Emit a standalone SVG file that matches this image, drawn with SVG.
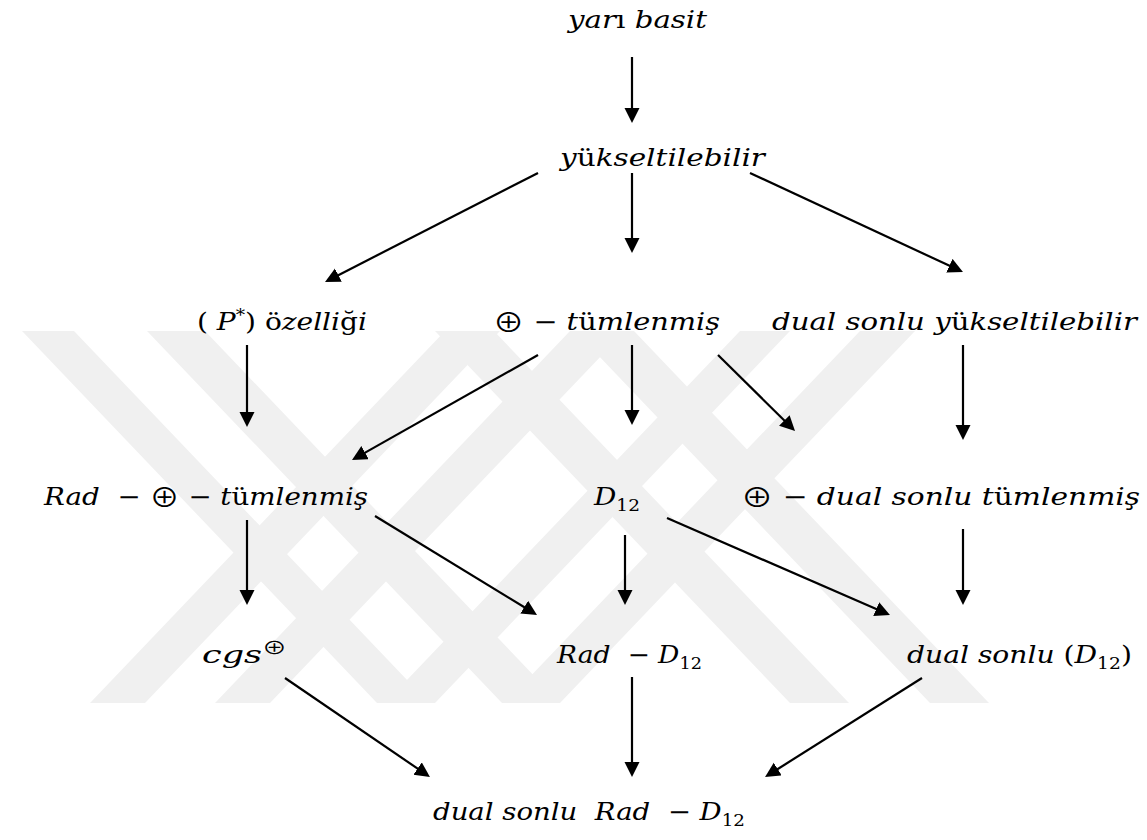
<svg xmlns="http://www.w3.org/2000/svg" width="1147" height="840" viewBox="0 0 1147 840">
<style>
.t{font-family:"DejaVu Serif","Liberation Serif",serif;font-size:24px;font-style:italic;fill:#000}
.u{font-style:normal}
.s{font-size:16px;font-style:normal}
.o{font-size:26px;font-style:normal;font-family:"Noto Sans CJK SC","DejaVu Serif",sans-serif}
.os{font-size:17px;font-style:normal;font-family:"Noto Sans CJK SC","DejaVu Serif",sans-serif}
.c line{stroke:#000;stroke-width:2.2;marker-end:url(#ah)}
.wm polygon{fill:#f0f0f0}
</style>
<defs>
<marker id="ah" markerUnits="userSpaceOnUse" markerWidth="16" markerHeight="16" refX="5" refY="7.5" orient="auto"><path d="M0,0 L15,7.5 L0,15 z" fill="#000"/></marker>
<clipPath id="wc"><rect x="0" y="331" width="1147" height="372"/></clipPath>
</defs>
<rect width="1147" height="840" fill="#fff"/>
<g class="wm" clip-path="url(#wc)">
<polygon points="22,331 74,331 429,703 377,703"/>
<polygon points="147,331 205,331 560,703 502,703"/>
<polygon points="90,703 145,703 500,331 445,331"/>
<polygon points="215,703 270,703 625,331 570,331"/>
<polygon points="435,331 494,331 849,703 790,703"/>
<polygon points="575,331 634,331 989,703 930,703"/>
<polygon points="385,703 435,703 790,331 740,331"/>
<polygon points="505,703 560,703 915,331 860,331"/>
</g>
<g id="n1"><text class="t" x="568" y="28" textLength="139" lengthAdjust="spacingAndGlyphs">yar<tspan class="u">ı</tspan> basit</text></g>
<g id="n2"><text class="t" x="560" y="166" textLength="205" lengthAdjust="spacingAndGlyphs">y<tspan class="u">ü</tspan>kseltilebilir</text></g>
<g id="n3"><text class="t" x="197" y="330" textLength="170" lengthAdjust="spacingAndGlyphs"><tspan class="u">( </tspan>P<tspan class="s" dy="-9">*</tspan><tspan class="u" dy="9">) ö</tspan>zelli<tspan class="u">ğ</tspan>i</text></g>
<g id="n4"><text class="t" x="493" y="330" textLength="227" lengthAdjust="spacingAndGlyphs"><tspan class="o" dy="2">⊕</tspan><tspan class="u" dy="-2"> − </tspan>t<tspan class="u">ü</tspan>mlenmiş</text></g>
<g id="n5"><text class="t" x="772" y="330" textLength="365" lengthAdjust="spacingAndGlyphs">dual sonlu y<tspan class="u">ü</tspan>kseltilebilir</text></g>
<g id="n6"><text class="t" x="44" y="505" textLength="324" lengthAdjust="spacingAndGlyphs" xml:space="preserve">Rad<tspan class="u">  − </tspan><tspan class="o" dy="2">⊕</tspan><tspan class="u" dy="-2"> − </tspan>t<tspan class="u">ü</tspan>mlenmiş</text></g>
<g id="n7"><text class="t" x="594" y="505" textLength="46" lengthAdjust="spacingAndGlyphs">D<tspan class="s" dy="6">12</tspan></text></g>
<g id="n8"><text class="t" x="741" y="505" textLength="399" lengthAdjust="spacingAndGlyphs"><tspan class="o" dy="2">⊕</tspan><tspan class="u" dy="-2"> − </tspan>dual sonlu t<tspan class="u">ü</tspan>mlenmiş</text></g>
<g id="n9"><text class="t" x="202" y="663" textLength="85" lengthAdjust="spacingAndGlyphs">cgs<tspan class="os" dy="-9">⊕</tspan></text></g>
<g id="n10"><text class="t" x="557" y="663" textLength="145" lengthAdjust="spacingAndGlyphs" xml:space="preserve">Rad<tspan class="u">  − </tspan>D<tspan class="s" dy="6">12</tspan></text></g>
<g id="n11"><text class="t" x="907" y="663" textLength="225" lengthAdjust="spacingAndGlyphs">dual sonlu <tspan class="u">(</tspan>D<tspan class="s" dy="6">12</tspan><tspan class="u" dy="-6">)</tspan></text></g>
<g id="n12"><text class="t" x="433" y="820" textLength="312" lengthAdjust="spacingAndGlyphs" xml:space="preserve">dual sonlu  Rad<tspan class="u">  − </tspan>D<tspan class="s" dy="6">12</tspan></text></g>
<g id="connectors" class="c">
<line x1="632" y1="57" x2="632" y2="113"/>
<line x1="538" y1="173" x2="333.9" y2="277.4"/>
<line x1="632" y1="173" x2="632" y2="243"/>
<line x1="750" y1="173" x2="953.9" y2="267.8"/>
<line x1="247" y1="345" x2="247" y2="417"/>
<line x1="538" y1="355" x2="360.7" y2="455.1"/>
<line x1="632" y1="345" x2="632" y2="415"/>
<line x1="718" y1="355" x2="787.9" y2="424"/>
<line x1="963" y1="345" x2="963" y2="430"/>
<line x1="247" y1="520" x2="247" y2="595"/>
<line x1="375" y1="516" x2="528.5" y2="609.8"/>
<line x1="625" y1="535" x2="625" y2="595"/>
<line x1="667" y1="518" x2="880.8" y2="611"/>
<line x1="963" y1="529" x2="963" y2="595"/>
<line x1="285" y1="678" x2="421.7" y2="771.4"/>
<line x1="632" y1="677" x2="632" y2="767"/>
<line x1="922" y1="678" x2="773.5" y2="771.7"/>
</g>
</svg>
